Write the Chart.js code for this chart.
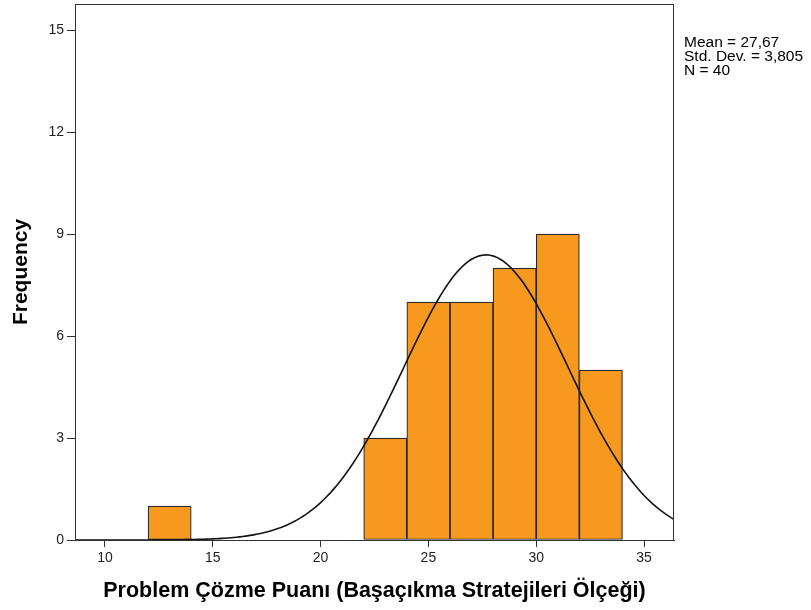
<!DOCTYPE html>
<html>
<head>
<meta charset="utf-8">
<script src="https://cdn.jsdelivr.net/npm/chart.js@4.4.1/dist/chart.umd.min.js"></script>
<style>
  html, body { margin: 0; padding: 0; background: #fff; }
  #wrap { width: 811px; height: 610px; position: relative; }
</style>
</head>
<body>
<div id="wrap"><canvas id="histChart" width="811" height="610"></canvas></div>
<script>
// Bin midpoints (bin width 2) and frequencies
const binCenters = [13, 23, 25, 27, 29, 31, 33];
const frequencies = [1, 3, 7, 7, 8, 9, 5];
const xTicks = [10, 15, 20, 25, 30, 35];
const yTicks = [0, 3, 6, 9, 12, 15];

// Summary statistics printed beside the plot
const statMean = 27.67;
const statSD = 3.805;
const statN = 40;
const binWidth = 2;
const statLines = ['Mean = 27,67', 'Std. Dev. = 3,805', 'N = 40'];

const xMin = 8.61, xMax = 36.39;
const yMax = 15.77;

// Normal curve scaled to counts: N * binWidth * pdf(x)
const curve = [];
for (let i = 0; i <= 200; i++) {
  const x = xMin + (xMax - xMin) * i / 200;
  const z = (x - statMean) / statSD;
  const y = statN * binWidth * Math.exp(-0.5 * z * z) / (statSD * Math.sqrt(2 * Math.PI));
  curve.push({ x: x, y: y });
}

const FONT = "'Liberation Sans', Arial, sans-serif";

// Statistics text in the right margin
const statsPlugin = {
  id: 'statsText',
  afterDraw(chart) {
    const ctx = chart.ctx;
    ctx.save();
    ctx.fillStyle = '#000';
    ctx.font = '15.5px ' + FONT;
    ctx.textBaseline = 'alphabetic';
    statLines.forEach((t, i) => ctx.fillText(t, 684, 47 + i * 14));
    ctx.restore();
  }
};

// Box around the plot area
const framePlugin = {
  id: 'frame',
  afterDatasetsDraw(chart) {
    const a = chart.chartArea;
    const ctx = chart.ctx;
    ctx.save();
    ctx.strokeStyle = '#333';
    ctx.lineWidth = 1;
    ctx.strokeRect(Math.round(a.left) + 0.5, Math.round(a.top) + 0.5,
                   Math.round(a.right - a.left) - 1, Math.round(a.bottom - a.top));
    ctx.restore();
  }
};

const noPad = s => { s.paddingTop = 0; s.paddingBottom = 0; s.paddingLeft = 0; s.paddingRight = 0; };

const ctx = document.getElementById('histChart').getContext('2d');
new Chart(ctx, {
  data: {
    datasets: [
      {
        type: 'line',
        data: curve,
        borderColor: '#111',
        borderWidth: 1.6,
        pointRadius: 0,
        tension: 0,
        fill: false,
        order: 0
      },
      {
        type: 'bar',
        data: binCenters.map((c, i) => ({ x: c, y: frequencies[i] })),
        backgroundColor: '#F7991F',
        borderColor: '#2a2a2a',
        borderWidth: 1.2,
        borderSkipped: false,
        barPercentage: 1,
        categoryPercentage: 1,
        order: 1
      }
    ]
  },
  options: {
    responsive: false,
    animation: false,
    layout: { padding: { top: 4, right: 137, left: 0, bottom: 0 } },
    plugins: { legend: { display: false }, tooltip: { enabled: false } },
    scales: {
      x: {
        type: 'linear',
        offset: false,
        min: xMin,
        max: xMax,
        afterBuildTicks: s => { s.ticks = xTicks.map(v => ({ value: v })); },
        afterFit: s => { s.height = 70; noPad(s); },
        grid: { display: true, offset: false, drawOnChartArea: false, drawTicks: true, tickLength: 7, tickColor: '#333' },
        border: { color: '#333', width: 1 },
        ticks: { color: '#222', font: { family: FONT, size: 14 }, padding: 3, maxRotation: 0 },
        title: {
          display: true,
          text: 'Problem Çözme Puanı (Başaçıkma Stratejileri Ölçeği)',
          color: '#000',
          font: { family: FONT, size: 21.5, weight: 'bold' },
          padding: { top: 0, bottom: 6 }
        }
      },
      y: {
        min: 0,
        max: yMax,
        afterBuildTicks: s => { s.ticks = yTicks.map(v => ({ value: v })); },
        afterFit: s => { s.width = 75; noPad(s); },
        grid: { display: true, offset: false, drawOnChartArea: false, drawTicks: true, tickLength: 8, tickColor: '#333' },
        border: { color: '#333', width: 1 },
        ticks: { color: '#222', font: { family: FONT, size: 14 }, padding: 3 },
        title: {
          display: true,
          text: 'Frequency',
          color: '#000',
          font: { family: FONT, size: 21, weight: 'bold' },
          padding: { top: 9, bottom: 0 }
        }
      }
    }
  },
  plugins: [statsPlugin, framePlugin]
});
</script>
</body>
</html>
